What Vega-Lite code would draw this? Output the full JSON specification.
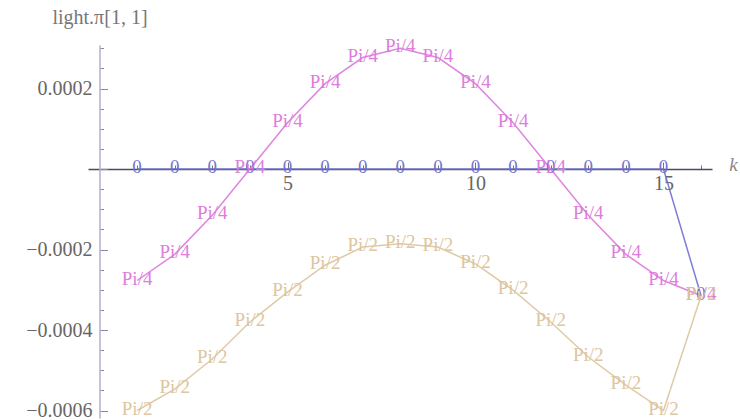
{
  "$schema": "https://vega.github.io/schema/vega-lite/v6.json",
  "width": 624,
  "height": 373,
  "autosize": {"type": "none"},
  "padding": {"left": 88, "top": 45, "right": 28, "bottom": 2},
  "background": "white",
  "config": {"view": {"stroke": null}, "font": "Liberation Serif"},
  "data": {
    "values": [
      {"k": 1, "value": 0, "theta": "0"},
      {"k": 2, "value": 0, "theta": "0"},
      {"k": 3, "value": 0, "theta": "0"},
      {"k": 4, "value": 0, "theta": "0"},
      {"k": 5, "value": 0, "theta": "0"},
      {"k": 6, "value": 0, "theta": "0"},
      {"k": 7, "value": 0, "theta": "0"},
      {"k": 8, "value": 0, "theta": "0"},
      {"k": 9, "value": 0, "theta": "0"},
      {"k": 10, "value": 0, "theta": "0"},
      {"k": 11, "value": 0, "theta": "0"},
      {"k": 12, "value": 0, "theta": "0"},
      {"k": 13, "value": 0, "theta": "0"},
      {"k": 14, "value": 0, "theta": "0"},
      {"k": 15, "value": 0, "theta": "0"},
      {"k": 16, "value": -0.000315, "theta": "0"},
      {"k": 1, "value": -0.000277, "theta": "Pi/4"},
      {"k": 2, "value": -0.000212, "theta": "Pi/4"},
      {"k": 3, "value": -0.000115, "theta": "Pi/4"},
      {"k": 4, "value": 0, "theta": "Pi/4"},
      {"k": 5, "value": 0.000115, "theta": "Pi/4"},
      {"k": 6, "value": 0.000212, "theta": "Pi/4"},
      {"k": 7, "value": 0.000277, "theta": "Pi/4"},
      {"k": 8, "value": 0.0003, "theta": "Pi/4"},
      {"k": 9, "value": 0.000277, "theta": "Pi/4"},
      {"k": 10, "value": 0.000212, "theta": "Pi/4"},
      {"k": 11, "value": 0.000115, "theta": "Pi/4"},
      {"k": 12, "value": 0, "theta": "Pi/4"},
      {"k": 13, "value": -0.000115, "theta": "Pi/4"},
      {"k": 14, "value": -0.000212, "theta": "Pi/4"},
      {"k": 15, "value": -0.000277, "theta": "Pi/4"},
      {"k": 16, "value": -0.000315, "theta": "Pi/4"},
      {"k": 1, "value": -0.0006, "theta": "Pi/2"},
      {"k": 2, "value": -0.000547, "theta": "Pi/2"},
      {"k": 3, "value": -0.000472, "theta": "Pi/2"},
      {"k": 4, "value": -0.00038, "theta": "Pi/2"},
      {"k": 5, "value": -0.000306, "theta": "Pi/2"},
      {"k": 6, "value": -0.000239, "theta": "Pi/2"},
      {"k": 7, "value": -0.000194, "theta": "Pi/2"},
      {"k": 8, "value": -0.000186, "theta": "Pi/2"},
      {"k": 9, "value": -0.000194, "theta": "Pi/2"},
      {"k": 10, "value": -0.000236, "theta": "Pi/2"},
      {"k": 11, "value": -0.000301, "theta": "Pi/2"},
      {"k": 12, "value": -0.00038, "theta": "Pi/2"},
      {"k": 13, "value": -0.000467, "theta": "Pi/2"},
      {"k": 14, "value": -0.000537, "theta": "Pi/2"},
      {"k": 15, "value": -0.0006, "theta": "Pi/2"},
      {"k": 16, "value": -0.000315, "theta": "Pi/2"}
    ]
  },
  "encoding": {
    "x": {
      "field": "k",
      "type": "quantitative",
      "scale": {"domain": [-0.306, 16.29], "nice": false, "zero": false},
      "axis": {
        "orient": "bottom",
        "offset": -249,
        "values": [1, 2, 3, 4, 5, 6, 7, 8, 9, 10, 11, 12, 13, 14, 15, 16],
        "labelExpr": "datum.value % 5 === 0 ? datum.label : ''",
        "tickSize": {"condition": {"test": "datum.value % 5 === 0", "value": -7}, "value": -4},
        "tickColor": "#777777",
        "domainColor": "#4a4a66",
        "domainWidth": 1.4,
        "grid": false,
        "labelFont": "Liberation Serif",
        "labelFontSize": 20,
        "labelColor": "#666666",
        "labelBaseline": "middle",
        "labelPadding": 21,
        "title": "k",
        "titleFont": "Liberation Serif",
        "titleFontStyle": "italic",
        "titleFontWeight": "normal",
        "titleFontSize": 19,
        "titleColor": "#888888",
        "titleX": 645,
        "titleY": -5,
        "titleAlign": "center",
        "titleBaseline": "middle"
      }
    },
    "y": {
      "field": "value",
      "type": "quantitative",
      "scale": {"domain": [-0.0006186, 0.0003081], "nice": false, "zero": false},
      "axis": {
        "orient": "left",
        "offset": -11.5,
        "values": [-0.0006, -0.00055, -0.0005, -0.00045, -0.0004, -0.00035, -0.0003, -0.00025, -0.0002, -0.00015, -0.0001, -0.00005, 0, 0.00005, 0.0001, 0.00015, 0.0002, 0.00025, 0.0003],
        "labelExpr": "abs(datum.value * 5000 - round(datum.value * 5000)) < 0.01 && abs(datum.value) > 1e-9 ? replace(format(datum.value, '.4f'), '-', '\u2212') : ''",
        "tickSize": {"condition": {"test": "abs(datum.value * 5000 - round(datum.value * 5000)) < 0.01", "value": -8}, "value": -4},
        "tickColor": "#8a84a8",
        "domainColor": "#b4aed0",
        "domainWidth": 1.5,
        "grid": false,
        "labelFont": "Liberation Serif",
        "labelFontSize": 20,
        "labelColor": "#666666",
        "labelPadding": 15.5,
        "title": "light.\u03c0[1, 1]",
        "titleFont": "Liberation Serif",
        "titleFontWeight": "normal",
        "titleFontSize": 20,
        "titleColor": "#777777",
        "titleAngle": 0,
        "titleX": 0,
        "titleY": -28,
        "titleAlign": "center",
        "titleBaseline": "middle"
      }
    },
    "color": {
      "field": "theta",
      "type": "nominal",
      "scale": {"domain": ["0", "Pi/4", "Pi/2"], "range": ["#6f6fcf", "#dc78dc", "#dcc49c"]},
      "legend": null
    }
  },
  "layer": [
    {"mark": {"type": "line", "strokeWidth": 1.5, "opacity": 0.9}},
    {
      "mark": {"type": "text", "font": "Liberation Serif", "fontSize": 19, "dy": -2, "opacity": 0.95},
      "encoding": {"text": {"field": "theta", "type": "nominal"}}
    }
  ]
}
